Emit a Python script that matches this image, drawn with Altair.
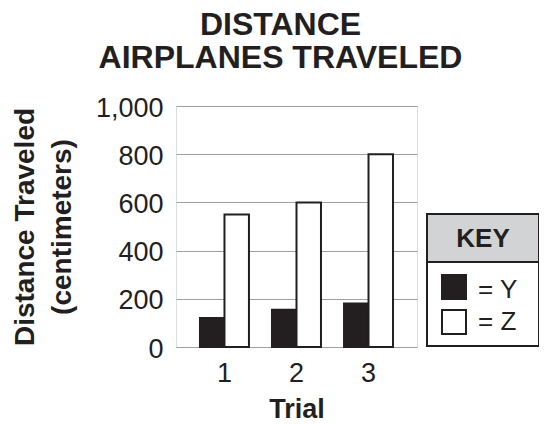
import altair as alt
import pandas as pd

# ---- data ----
trials = ["1", "2", "3"]
series = ["Y", "Z"]
values_y = [120, 155, 180]
values_z = [550, 600, 800]
y_ticks = [0, 200, 400, 600, 800, 1000]
series_colors = ["#231f20", "#ffffff"]
title_lines = ["DISTANCE", "AIRPLANES TRAVELED"]
y_title_lines = ["Distance Traveled", "(centimeters)"]
x_title = "Trial"
key_title = "KEY"
key_labels = ["= Y", "= Z"]

rows = []
for t, a, b in zip(trials, values_y, values_z):
    rows.append({"Trial": t, "Series": series[0], "Distance": a})
    rows.append({"Trial": t, "Series": series[1], "Distance": b})
df = pd.DataFrame(rows)

INK = "#231f20"
FONT = "Liberation Sans"
W, H = 241, 241

bars = alt.Chart(df).mark_bar(stroke=INK, strokeWidth=2).encode(
    x=alt.X(
        "Trial:N",
        sort=trials,
        scale=alt.Scale(paddingInner=0.32, paddingOuter=0.333),
        axis=alt.Axis(
            title=x_title, labelAngle=0, labelFontSize=27, labelFont=FONT,
            labelColor=INK, labelPadding=34, labelBaseline="alphabetic",
            ticks=False, tickSize=0, domain=False, grid=False,
            titleFont=FONT, titleFontSize=27, titleFontWeight="bold",
            titleColor=INK, titleY=70, titleBaseline="alphabetic",
        ),
    ),
    xOffset=alt.XOffset("Series:N", sort=series,
                        scale=alt.Scale(paddingInner=0, paddingOuter=0)),
    y=alt.Y(
        "Distance:Q",
        scale=alt.Scale(domain=[0, 1000], nice=False),
        axis=alt.Axis(
            values=y_ticks, format=",d", labelFontSize=27, labelFont=FONT,
            labelColor=INK, labelPadding=13, labelOffset=2, ticks=False,
            tickSize=0, domain=False, grid=True, gridColor="#9d9fa2",
            gridWidth=1.2, title=y_title_lines, titleFont=FONT,
            titleFontSize=28, titleFontWeight="bold", titleColor=INK,
            titleLineHeight=37, titleAngle=-90, titleX=-143, titleY=120.5,
            titleAlign="center", titleBaseline="alphabetic",
        ),
    ),
    fill=alt.Fill("Series:N", scale=alt.Scale(domain=series, range=series_colors),
                  legend=None),
)

one = pd.DataFrame({"k": [0]})

# ---- key box (drawn beside the plot) ----
kx0, kx1 = 251, 363
ky0, kyh, ky1 = 108, 156, 240
header = alt.Chart(one).mark_rect(fill="#d1d3d4", stroke=INK, strokeWidth=2).encode(
    x=alt.value(kx0), x2=alt.value(kx1), y=alt.value(ky0), y2=alt.value(kyh))
body = alt.Chart(one).mark_rect(fill="white", stroke=INK, strokeWidth=2).encode(
    x=alt.value(kx0), x2=alt.value(kx1), y=alt.value(kyh), y2=alt.value(ky1))
key_text = alt.Chart(one).mark_text(
    text=key_title, font=FONT, fontSize=26, fontWeight="bold", color=INK,
    align="center", baseline="alphabetic").encode(
    x=alt.value((kx0 + kx1) / 2), y=alt.value(141))
sq_y = alt.Chart(one).mark_rect(fill=series_colors[0], stroke=INK, strokeWidth=2).encode(
    x=alt.value(266), x2=alt.value(290), y=alt.value(169), y2=alt.value(193))
sq_z = alt.Chart(one).mark_rect(fill=series_colors[1], stroke=INK, strokeWidth=2).encode(
    x=alt.value(266), x2=alt.value(290), y=alt.value(204), y2=alt.value(228))
lab_y = alt.Chart(one).mark_text(
    text=key_labels[0], font=FONT, fontSize=26, color=INK, align="left",
    baseline="alphabetic").encode(x=alt.value(302), y=alt.value(192))
lab_z = alt.Chart(one).mark_text(
    text=key_labels[1], font=FONT, fontSize=26, color=INK, align="left",
    baseline="alphabetic").encode(x=alt.value(302), y=alt.value(224))

chart = alt.layer(bars, header, body, key_text, sq_y, sq_z, lab_y, lab_z).properties(
    width=W, height=H,
    title=alt.TitleParams(
        text=title_lines, font=FONT, fontSize=32, fontWeight="bold", color=INK,
        lineHeight=33, anchor="middle", dx=-16, dy=37, offset=24, baseline="bottom",
    ),
    autosize=alt.AutoSizeParams(type="none"),
    padding={"left": 168, "top": 98, "right": 122, "bottom": 77},
).configure_view(stroke=INK, strokeWidth=2).configure(background="white")

chart.save("out.html", embed_options={"renderer": "svg", "actions": False})
